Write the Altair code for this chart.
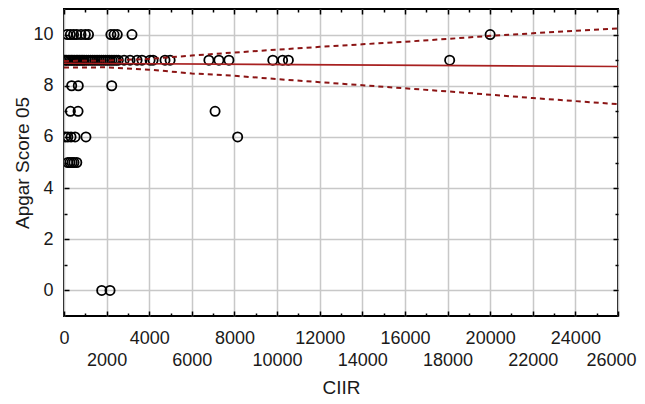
import altair as alt
import pandas as pd

# ---- data ----
score_10 = [150, 300, 450, 600, 800, 1000, 1150, 2200, 2350, 2500, 3190, 20000]
score_9 = [50, 120, 200, 280, 350, 420, 500, 580, 650, 720, 800, 880, 950, 1050,
           1150, 1250, 1350, 1450, 1550, 1650, 1750, 1850, 1950, 2050, 2150, 2250,
           2350, 2450, 2550, 2820, 3100, 3430, 3660, 4040, 4180, 4740, 4980,
           6800, 7270, 7740, 9800, 10260, 10530, 18100]
score_8 = [360, 670, 2240]
score_7 = [300, 660, 7090]
score_6 = [60, 180, 330, 520, 1030, 8150]
score_5 = [180, 280, 380, 470, 600]
score_0 = [1770, 2160]

reg_x = [0, 26000]
reg_y = [8.88, 8.75]

ci_x = [0, 2000, 4000, 6000, 8000, 10000, 12000, 14000, 16000, 18000, 20000, 22000, 24000, 26000]
ci_upper = [8.97, 8.98, 9.05, 9.18, 9.30, 9.41, 9.52, 9.62, 9.72, 9.83, 9.95, 10.05, 10.15, 10.24]
ci_lower = [8.71, 8.72, 8.63, 8.48, 8.39, 8.26, 8.14, 8.02, 7.90, 7.78, 7.65, 7.52, 7.40, 7.28]

x_major = list(range(0, 26001, 2000))
x_minor = list(range(1000, 26000, 2000))
y_major = [0, 2, 4, 6, 8, 10]
y_minor = [1, 3, 5, 7, 9]

# ---- tables ----
rows = []
for score, xs_ in [(10, score_10), (9, score_9), (8, score_8), (7, score_7),
                   (6, score_6), (5, score_5), (0, score_0)]:
    for v in xs_:
        rows.append({"CIIR": v, "Apgar": score})
pts = pd.DataFrame(rows)
reg = pd.DataFrame({"CIIR": reg_x, "Apgar": reg_y})
ci = pd.DataFrame({"CIIR": ci_x, "upper": ci_upper, "lower": ci_lower})

FONT = "Liberation Sans"
TXT = "#1a1a1a"
xs = alt.Scale(domain=[0, 26000], nice=False, zero=False)
ys = alt.Scale(domain=[-1, 11], nice=False, zero=False)


def tick_axis(values, orient, size):
    return alt.Axis(values=values, orient=orient, offset=-size, domain=False,
                    ticks=True, tickSize=size, tickWidth=1.5, tickColor="black",
                    grid=False, labels=False, title="")


x_main = alt.Axis(
    values=x_major, orient="bottom", offset=-5, domain=False, ticks=True,
    tickSize=5, tickWidth=1.5, tickColor="black", grid=True,
    gridColor="#c8c8c8", gridWidth=1.5, format="d",
    labelExpr="(datum.value / 2000) % 2 == 1 ? ['', datum.label] : datum.label",
    labelLineHeight=22, labelFont=FONT, labelFontSize=18, labelColor=TXT,
    labelPadding=13, labelOverlap=False, labelFlush=False,
    labelOffset={"condition": {"test": "datum.value == 26000", "value": -7},
                 "value": 0},
    title="CIIR", titleFont=FONT, titleFontSize=19, titleFontWeight="normal",
    titleColor=TXT, titlePadding=9)

y_main = alt.Axis(
    values=y_major, orient="left", offset=-5, domain=False, ticks=True,
    tickSize=5, tickWidth=1.5, tickColor="black", grid=True,
    gridColor="#c8c8c8", gridWidth=1.5, format="d",
    labelFont=FONT, labelFontSize=18, labelColor=TXT, labelPadding=11,
    title="Apgar Score 05", titleFont=FONT, titleFontSize=19,
    titleFontWeight="normal", titleColor=TXT, titlePadding=0)

points = alt.Chart(pts).mark_point(
    shape="circle", filled=False, color="black", size=85, strokeWidth=1.8,
    opacity=1, clip=True
).encode(
    x=alt.X("CIIR:Q", scale=xs, axis=x_main),
    y=alt.Y("Apgar:Q", scale=ys, axis=y_main),
)

reg_line = alt.Chart(reg).mark_line(color="#a82020", strokeWidth=1.6).encode(
    x=alt.X("CIIR:Q", scale=xs, axis=tick_axis(x_major, "top", 5)),
    y=alt.Y("Apgar:Q", scale=ys, axis=tick_axis(y_major, "right", 5)),
)

upper = alt.Chart(ci).mark_line(color="#8b1414", strokeWidth=2,
                                strokeDash=[5, 4]).encode(
    x=alt.X("CIIR:Q", scale=xs, axis=tick_axis(x_minor, "bottom", 3)),
    y=alt.Y("upper:Q", scale=ys, axis=tick_axis(y_minor, "left", 3)),
)

lower = alt.Chart(ci).mark_line(color="#8b1414", strokeWidth=2,
                                strokeDash=[5, 4]).encode(
    x=alt.X("CIIR:Q", scale=xs, axis=tick_axis(x_minor, "top", 3)),
    y=alt.Y("lower:Q", scale=ys, axis=tick_axis(y_minor, "right", 3)),
)

chart = alt.layer(points, reg_line, upper, lower).resolve_axis(
    x="independent", y="independent"
).properties(
    width=554, height=307,
    autosize=alt.AutoSizeParams(type="none"),
    padding={"left": 56, "top": 1, "right": 19, "bottom": 86},
    background="white",
).configure_view(stroke="black", strokeWidth=2)

chart.save("out.html", embed_options={"renderer": "svg", "actions": False})
